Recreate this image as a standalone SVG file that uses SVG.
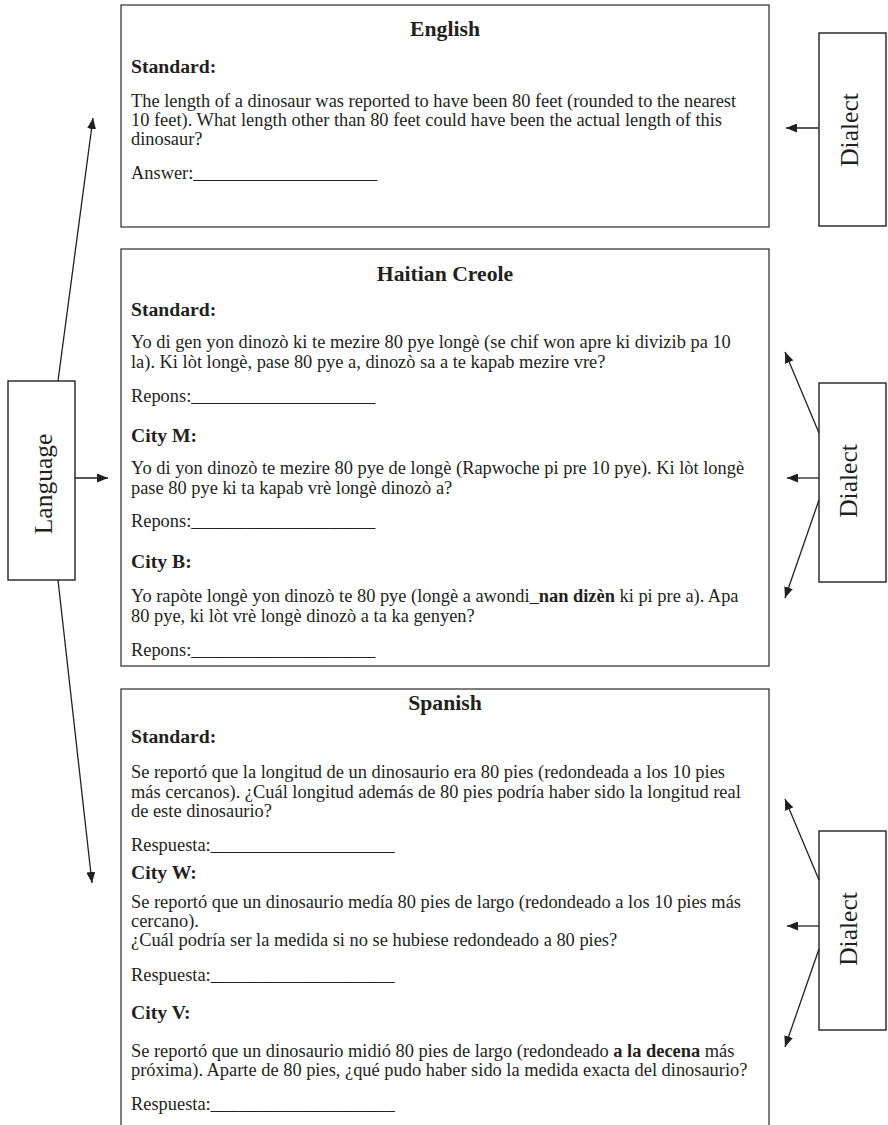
<svg xmlns="http://www.w3.org/2000/svg" width="888" height="1125" viewBox="0 0 888 1125">
<style>
text{font-family:"Liberation Serif","Times New Roman",serif;fill:#231f20}
.t{font-size:18.4px}
.l{font-size:19.7px;font-weight:bold}
.h{font-size:21.7px;font-weight:bold;text-anchor:middle}
.v{font-size:25.5px;text-anchor:middle}
.bd{font-weight:bold}
.panel{fill:#fff;stroke:#3a3a3a;stroke-width:1.3}
.side{fill:#fff;stroke:#231f20;stroke-width:1.4}
.con{stroke:#231f20;stroke-width:1.3;fill:none;marker-end:url(#ah)}
</style>
<defs>
<marker id="ah" markerUnits="userSpaceOnUse" markerWidth="11" markerHeight="9" refX="11" refY="4.5" orient="auto">
<path d="M0,0 L11,4.5 L0,9 z" fill="#231f20"/>
</marker>
</defs>
<rect width="888" height="1125" fill="#fff"/>

<g id="english">
<rect class="panel" x="121" y="5" width="648" height="222"/>
<text class="h" x="445" y="36">English</text>
<text class="l" x="131" y="73">Standard:</text>
<text class="t" x="131" y="107">The length of a dinosaur was reported to have been 80 feet (rounded to the nearest</text>
<text class="t" x="131" y="126">10 feet). What length other than 80 feet could have been the actual length of this</text>
<text class="t" x="131" y="145">dinosaur?</text>
<text class="t" x="131" y="179">Answer:____________________</text>
</g>

<g id="haitian-creole">
<rect class="panel" x="121" y="249" width="648" height="417"/>
<text class="h" x="445" y="281">Haitian Creole</text>
<text class="l" x="131" y="316">Standard:</text>
<text class="t" x="131" y="348">Yo di gen yon dinozò ki te mezire 80 pye longè (se chif won apre ki divizib pa 10</text>
<text class="t" x="131" y="368">la). Ki lòt longè, pase 80 pye a, dinozò sa a te kapab mezire vre?</text>
<text class="t" x="131" y="402">Repons:____________________</text>
<text class="l" x="131" y="442">City M:</text>
<text class="t" x="131" y="474">Yo di yon dinozò te mezire 80 pye de longè (Rapwoche pi pre 10 pye). Ki lòt longè</text>
<text class="t" x="131" y="494">pase 80 pye ki ta kapab vrè longè dinozò a?</text>
<text class="t" x="131" y="527">Repons:____________________</text>
<text class="l" x="131" y="568">City B:</text>
<text class="t" x="131" y="602">Yo rapòte longè yon dinozò te 80 pye (longè a awondi_<tspan class="bd">nan dizèn</tspan> ki pi pre a). Apa</text>
<text class="t" x="131" y="622">80 pye, ki lòt vrè longè dinozò a ta ka genyen?</text>
<text class="t" x="131" y="656">Repons:____________________</text>
</g>

<g id="spanish">
<rect class="panel" x="121" y="689" width="648" height="460"/>
<text class="h" x="445" y="710">Spanish</text>
<text class="l" x="131" y="743">Standard:</text>
<text class="t" x="131" y="778">Se reportó que la longitud de un dinosaurio era 80 pies (redondeada a los 10 pies</text>
<text class="t" x="131" y="798">más cercanos). ¿Cuál longitud además de 80 pies podría haber sido la longitud real</text>
<text class="t" x="131" y="817">de este dinosaurio?</text>
<text class="t" x="131" y="851">Respuesta:____________________</text>
<text class="l" x="131" y="879">City W:</text>
<text class="t" x="131" y="908">Se reportó que un dinosaurio medía 80 pies de largo (redondeado a los 10 pies más</text>
<text class="t" x="131" y="927">cercano).</text>
<text class="t" x="131" y="946">¿Cuál podría ser la medida si no se hubiese redondeado a 80 pies?</text>
<text class="t" x="131" y="981">Respuesta:____________________</text>
<text class="l" x="131" y="1019">City V:</text>
<text class="t" x="131" y="1057">Se reportó que un dinosaurio midió 80 pies de largo (redondeado <tspan class="bd">a la decena</tspan> más</text>
<text class="t" x="131" y="1076">próxima). Aparte de 80 pies, ¿qué pudo haber sido la medida exacta del dinosaurio?</text>
<text class="t" x="131" y="1110">Respuesta:____________________</text>
</g>

<g id="language">
<rect class="side" x="8" y="381" width="67" height="199"/>
<text class="v" transform="translate(52,484) rotate(-90)">Language</text>
</g>

<g id="dialect-english">
<rect class="side" x="819" y="33" width="67" height="193"/>
<text class="v" transform="translate(858,130) rotate(-90)">Dialect</text>
</g>

<g id="dialect-haitian">
<rect class="side" x="819" y="383" width="67" height="199"/>
<text class="v" transform="translate(857,481) rotate(-90)">Dialect</text>
</g>

<g id="dialect-spanish">
<rect class="side" x="819" y="831" width="67" height="199"/>
<text class="v" transform="translate(857,929) rotate(-90)">Dialect</text>
</g>

<g id="connectors">
<line class="con" x1="58" y1="381" x2="93" y2="118"/>
<line class="con" x1="75" y1="478" x2="108" y2="478"/>
<line class="con" x1="58" y1="580" x2="92" y2="883"/>
<line class="con" x1="819" y1="128" x2="786" y2="128"/>
<line class="con" x1="819" y1="433" x2="785" y2="352"/>
<line class="con" x1="819" y1="478" x2="787" y2="478"/>
<line class="con" x1="819" y1="500" x2="785" y2="598"/>
<line class="con" x1="819" y1="880" x2="785" y2="799"/>
<line class="con" x1="819" y1="926" x2="787" y2="926"/>
<line class="con" x1="819" y1="949" x2="785" y2="1047"/>
</g>
</svg>
